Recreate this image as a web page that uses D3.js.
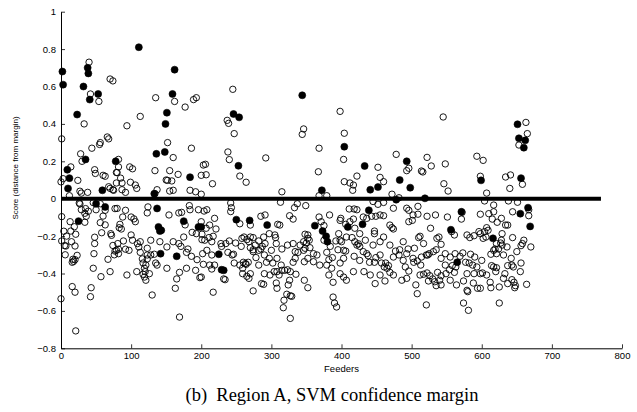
<!DOCTYPE html>
<html><head><meta charset="utf-8">
<script src="https://cdn.jsdelivr.net/npm/d3@7/dist/d3.min.js"></script>
<style>
html,body{margin:0;padding:0;background:#fff;}
svg{display:block;}
</style></head>
<body><div id="chart"></div>
<script>
// ---- data (feeder index, score) ----
const xTicks = [0,100,200,300,400,500,600,700,800];
const yTicks = [-0.8,-0.6,-0.4,-0.2,0,0.2,0.4,0.6,0.8,1];
const marginLine = [[0,0],[770,0]];

const filledPoints = [
[111,0.81],[2,0.68],[162,0.69],[38,0.70],[39,0.67],[3,0.61],[32,0.60],[53,0.56],[41,0.53],[159,0.56],
[151,0.46],[23,0.45],[149,0.40],[136,0.24],[148,0.25],[35,0.21],[78,0.20],[9,0.155],[12,0.11],[184,0.115],
[10,0.055],[59,0.045],[133,0.027],[50,-0.027],[63,-0.044],[25,-0.12],[137,-0.052],[139,-0.151],[143,-0.169],[141,-0.173],
[175,-0.12],[196,-0.151],[142,-0.294],[165,-0.308],
[344,0.553],[246,0.453],[254,0.435],[404,0.278],[253,0.176],
[372,0.045],[200,-0.151],[250,-0.112],[269,-0.116],[294,-0.141],[225,-0.297],[229,-0.38],[232,-0.383],
[362,-0.144],[373,-0.173],[378,-0.201],[380,-0.23],
[493,0.2],[433,0.175],[483,0.1],
[441,0.048],[452,0.062],[498,0.059],[478,-0.005],[519,0.002],[599,0.098],[439,-0.062],[409,-0.151],[430,-0.137],[556,-0.166],[571,-0.07],[565,-0.34],
[651,0.398],[653,0.323],[662,0.312],[660,0.273],[656,0.11],
[666,-0.048],[655,-0.08],[669,-0.148],[616,-0.212]
];

const openPoints = [
// upper left
[40,0.73],[70,0.64],[74,0.63],[42,0.56],[54,0.52],[135,0.54],[162,0.52],[189,0.53],[193,0.54],[177,0.49],
[33,0.40],[113,0.44],[94,0.39],[1,0.32],[66,0.33],[68,0.32],[56,0.30],[55,0.29],[44,0.27],[152,0.30],
[186,0.27],[160,0.22],[28,0.24],[30,0.20],[82,0.21],[82,0.17],[80,0.14],[98,0.17],[102,0.16],[48,0.155],
[49,0.135],[60,0.125],[63,0.12],[134,0.15],[155,0.15],[167,0.13],[14,0.17],[203,0.18],[85,0.11],[200,0.125],[150,0.10],
[0,0.09],[3,0.107],[12,0.016],[24,0.098],[27,0.04],[29,0.03],[38,0.034],[68,0.064],[75,0.045],[79,0.084],[79,0.14],
[70,0.055],[74,0.048],[87,0.084],[99,0.088],[106,0.073],[108,0.055],[87,0.048],[92,0.034],[137,0.048],[134,0.027],
[152,0.098],[158,0.095],[155,0.041],[160,0.045],[184,0.045],[192,0.037],[200,0.024],
// lower left
[1,-0.096],[13,-0.123],[27,-0.028],[35,-0.053],[39,-0.067],[34,-0.078],[46,-0.021],[63,-0.062],[77,-0.053],[60,-0.093],
[56,-0.128],[4,-0.174],[8,-0.2],[14,-0.173],[19,-0.15],[21,-0.19],[7,-0.253],[20,-0.253],[17,-0.324],[18,-0.335],
[23,-0.303],[48,-0.206],[48,-0.24],[58,-0.182],[72,-0.196],[74,-0.25],[77,-0.28],[76,-0.30],[67,-0.324],[81,-0.24],
[82,-0.27],[16,-0.47],[20,-0.5],[57,-0.417],[42,-0.524],[0,-0.535],[21,-0.707],
[26,-0.023],[29,-0.059],[50,-0.059],[56,-0.027],[80,-0.052],[92,-0.062],[36,-0.094],[34,-0.126],[63,-0.14],[88,-0.098],
[100,-0.098],[84,-0.137],[86,-0.162],[83,-0.155],[104,-0.108],[106,-0.123],[124,-0.044],[123,-0.076],[154,-0.087],[168,-0.076],
[172,-0.073],[177,-0.14],[200,-0.123],[204,-0.066],[196,-0.059],[184,-0.059],[183,-0.037],[187,-0.18],[193,-0.187],[175,-0.205],
[201,-0.219],[1,-0.226],[5,-0.251],[15,-0.23],[6,-0.3],[16,-0.34],[20,-0.326],[47,-0.294],[71,-0.187],[79,-0.276],
[82,-0.294],[89,-0.226],[92,-0.27],[97,-0.276],[100,-0.194],[102,-0.222],[109,-0.24],[111,-0.258],[113,-0.287],[116,-0.322],
[117,-0.344],[123,-0.322],[121,-0.355],[119,-0.372],[123,-0.301],[128,-0.301],[133,-0.297],[135,-0.344],[117,-0.404],[120,-0.39],
[119,-0.419],[121,-0.436],[126,-0.401],[128,-0.222],[168,-0.24],[171,-0.255],[179,-0.287],[181,-0.269],[186,-0.308],[194,-0.326],
[192,-0.383],[198,-0.422],[169,-0.394],[165,-0.429],[163,-0.479],[130,-0.515],[43,-0.476],[169,-0.633],
[113,-0.23],[123,-0.265],[141,-0.23],[151,-0.258],[160,-0.23],[137,-0.355],[151,-0.372],[179,-0.372],[70,-0.39],[46,-0.372],
[94,-0.408],[108,-0.39],
// upper middle
[245,0.585],[237,0.419],[239,0.403],[247,0.348],[398,0.467],[346,0.373],[344,0.344],[404,0.35],[368,0.27],[403,0.21],
[238,0.25],[240,0.209],[292,0.218],[206,0.184],[207,0.128],[255,0.121],[367,0.144],
[264,0.088],[216,0.08],[315,0.037],[368,0.016],[379,0.016],[404,0.091],
// lower middle
[242,-0.023],[243,-0.048],[242,-0.069],[208,-0.059],[219,-0.105],[255,-0.134],[270,-0.141],[285,-0.094],[291,-0.087],[309,-0.137],
[312,-0.141],[326,-0.091],[331,-0.109],[333,-0.048],[337,-0.027],[349,-0.037],[313,-0.019],[207,-0.158],[212,-0.141],[221,-0.162],
[201,-0.19],[217,-0.201],[211,-0.208],[205,-0.222],[215,-0.23],[229,-0.255],[235,-0.24],[246,-0.297],[249,-0.237],[261,-0.205],
[258,-0.212],[274,-0.208],[282,-0.226],[289,-0.205],[297,-0.187],[305,-0.194],[306,-0.208],[287,-0.255],[282,-0.276],[277,-0.248],
[274,-0.273],[300,-0.276],[315,-0.269],[203,-0.351],[212,-0.355],[200,-0.419],[215,-0.376],[219,-0.355],[232,-0.429],[234,-0.433],
[244,-0.301],[247,-0.344],[260,-0.34],[264,-0.351],[267,-0.34],[259,-0.401],[265,-0.415],[268,-0.426],[274,-0.493],[286,-0.454],
[290,-0.401],[298,-0.408],[304,-0.39],[308,-0.39],[311,-0.408],[315,-0.383],[319,-0.383],[323,-0.38],[327,-0.39],[335,-0.404],
[289,-0.458],[307,-0.451],[308,-0.479],[324,-0.461],[326,-0.436],[347,-0.436],[352,-0.476],[322,-0.511],[318,-0.543],[327,-0.519],
[329,-0.522],[317,-0.583],[327,-0.64],[217,-0.5],[341,-0.248],[346,-0.23],[348,-0.265],[355,-0.262],[360,-0.294],[365,-0.301],
[352,-0.212],[352,-0.194],[338,-0.287],[334,-0.283],[368,-0.098],[371,-0.123],[375,-0.144],[383,-0.087],[375,-0.222],[384,-0.255],
[379,-0.287],[382,-0.326],[387,-0.315],[379,-0.355],[386,-0.372],[382,-0.408],[388,-0.447],[398,-0.344],[398,-0.401],[403,-0.276],
[400,-0.23],[396,-0.187],[398,-0.116],[392,-0.226],[388,-0.526],[390,-0.558],[393,-0.579],
[268,-0.23],[270,-0.262],[274,-0.283],[263,-0.347],[259,-0.372],[278,-0.315],[285,-0.269],[290,-0.301],[297,-0.319],[302,-0.344],
[314,-0.355],[308,-0.319],[346,-0.276],[352,-0.319],[331,-0.34],[334,-0.319],[347,-0.337],[360,-0.337],[369,-0.355],[395,-0.273],[403,-0.319],
[228,-0.24],[238,-0.287],[240,-0.226],[257,-0.255],[265,-0.219],[270,-0.205],[291,-0.24],[307,-0.24],[323,-0.248],[331,-0.24],
[350,-0.237],[348,-0.19],[354,-0.222],[255,-0.355],[270,-0.401],[282,-0.355],[293,-0.34],[215,-0.301],[208,-0.276],[202,-0.294],
// upper right
[545,0.437],[478,0.237],[522,0.221],[496,0.163],[493,0.15],[514,0.148],[516,0.143],[528,0.175],[548,0.186],[452,0.168],
[422,0.121],[455,0.114],[593,0.227],[602,0.205],[598,0.12],
[417,0.073],[416,0.045],[412,0.084],[460,0.091],[472,0.024],[482,0.005],[546,0.08],[552,0.041],
[663,0.408],[665,0.348],[653,0.287],[634,0.116],[641,0.127],
[640,0.055],[658,0.077],[607,0.03],[638,-0.012],[651,-0.019],[604,-0.012],
// lower right
[445,-0.015],[452,-0.03],[460,-0.02],[411,-0.055],[418,-0.055],[422,-0.059],[431,-0.098],[436,-0.105],[443,-0.094],[449,-0.094],
[455,-0.087],[460,-0.091],[474,-0.051],[493,-0.051],[502,-0.087],[496,-0.062],[509,-0.041],[399,-0.105],[406,-0.137],[412,-0.123],
[417,-0.109],[419,-0.158],[426,-0.187],[407,-0.205],[415,-0.208],[419,-0.23],[422,-0.248],[424,-0.241],[426,-0.255],[447,-0.173],
[447,-0.187],[460,-0.205],[469,-0.141],[472,-0.155],[474,-0.162],[496,-0.123],[501,-0.116],[509,-0.083],[527,-0.158],[510,-0.208],
[512,-0.201],[504,-0.265],[495,-0.269],[523,-0.301],[535,-0.273],[522,-0.094],[534,-0.087],[539,-0.205],[551,-0.098],[557,-0.176],
[561,-0.194],[572,-0.073],[571,-0.109],[596,-0.176],[589,-0.198],[579,-0.194],[583,-0.208],
[398,-0.222],[406,-0.28],[403,-0.419],[418,-0.308],[426,-0.33],[436,-0.294],[438,-0.305],[447,-0.34],[449,-0.315],[457,-0.344],
[461,-0.365],[463,-0.344],[467,-0.358],[465,-0.372],[469,-0.394],[477,-0.28],[482,-0.301],[488,-0.33],[491,-0.365],[496,-0.387],
[503,-0.34],[508,-0.333],[514,-0.312],[521,-0.301],[525,-0.294],[531,-0.283],[432,-0.39],[448,-0.454],[462,-0.44],[486,-0.436],
[506,-0.461],[508,-0.508],[521,-0.568],[517,-0.404],[522,-0.397],[526,-0.412],[530,-0.429],[533,-0.444],[524,-0.44],[535,-0.465],
[542,-0.461],[540,-0.436],[542,-0.412],[537,-0.394],[549,-0.401],[554,-0.38],[561,-0.394],[563,-0.365],[558,-0.358],[569,-0.308],
[562,-0.294],[573,-0.29],[577,-0.34],[582,-0.344],[587,-0.355],[584,-0.297],[590,-0.312],[593,-0.365],[589,-0.401],[588,-0.451],
[594,-0.479],[579,-0.49],[580,-0.497],[574,-0.558],[581,-0.597],
[431,-0.283],[440,-0.34],[455,-0.301],[474,-0.312],[483,-0.273],[493,-0.294],[502,-0.319],[513,-0.355],[542,-0.319],[548,-0.294],
[548,-0.355],[555,-0.312],[542,-0.244],[536,-0.212],[517,-0.24],[488,-0.23],[469,-0.248],[455,-0.23],[434,-0.222],[445,-0.248],
[579,-0.401],[574,-0.44],[564,-0.461],[555,-0.436],[512,-0.408],[493,-0.426],[474,-0.408],[455,-0.408],[441,-0.408],[417,-0.39],[407,-0.436],
[667,-0.059],[667,-0.091],[598,-0.083],[610,-0.08],[617,-0.07],[615,-0.109],[622,-0.126],[634,-0.141],[637,-0.141],[607,-0.155],
[609,-0.169],[604,-0.176],[598,-0.187],[602,-0.212],[606,-0.205],[629,-0.187],[628,-0.222],[644,-0.208],[621,-0.24],[627,-0.237],
[629,-0.248],[624,-0.269],[619,-0.269],[613,-0.297],[621,-0.294],[631,-0.301],[642,-0.319],[656,-0.344],[658,-0.24],[656,-0.251],
[670,-0.258],[614,-0.358],[617,-0.365],[621,-0.369],[620,-0.39],[633,-0.401],[637,-0.358],[645,-0.365],[600,-0.33],[598,-0.401],
[601,-0.397],[612,-0.447],[613,-0.476],[625,-0.472],[637,-0.454],[643,-0.433],[646,-0.447],[648,-0.465],[647,-0.476],[664,-0.458],
[598,-0.479],[625,-0.558],
[617,-0.276],[636,-0.258],[650,-0.283],[643,-0.355],[655,-0.39],[631,-0.426],[607,-0.408],[660,-0.222],[628,-0.105],[644,-0.07],[617,-0.034]
];

// ---- drawing ----
const W = 637, H = 412;
const svg = d3.select("#chart").append("svg").attr("width", W).attr("height", H);
const x = d3.scaleLinear().domain([0,800]).range([61,622]);
const y = d3.scaleLinear().domain([-0.8,1]).range([348.3,11.7]);
const fmtY = d => d===0 ? "0" : (d<0 ? "\u2212" : "") + (Math.abs(d)===1 ? "1" : Math.abs(d).toFixed(1));
const font = "Liberation Sans, Arial, Helvetica, sans-serif";

const gx = svg.append("g").attr("transform", `translate(0,${y(-0.8)})`)
  .call(d3.axisBottom(x).tickValues(xTicks).tickSizeInner(-4).tickSizeOuter(0).tickPadding(4).tickFormat(d3.format("d")));
const gy = svg.append("g").attr("transform", `translate(${x(0)},0)`)
  .call(d3.axisLeft(y).tickValues(yTicks).tickSizeInner(-4).tickSizeOuter(0).tickPadding(5).tickFormat(fmtY));
[gx, gy].forEach(g => {
  g.select(".domain").attr("stroke", "#000").attr("stroke-width", 1);
  g.selectAll(".tick line").attr("stroke", "#000").attr("stroke-width", 0.8);
  g.selectAll(".tick text").attr("fill", "#000").style("font-family", font).style("font-size", "9.5px");
});

svg.append("g").selectAll("circle").data(openPoints).join("circle")
  .attr("cx", d => x(d[0])).attr("cy", d => y(d[1])).attr("r", 3.2)
  .attr("fill", "none").attr("stroke", "#000").attr("stroke-width", 0.9);

svg.append("path").datum(marginLine)
  .attr("d", d3.line().x(d => x(d[0])).y(d => y(d[1])))
  .attr("stroke", "#000").attr("stroke-width", 4).attr("fill", "none");

svg.append("g").selectAll("circle").data(filledPoints).join("circle")
  .attr("cx", d => x(d[0])).attr("cy", d => y(d[1])).attr("r", 3.5)
  .attr("fill", "#000").attr("stroke", "#000").attr("stroke-width", 0.6);

svg.append("text").attr("x", x(400)).attr("y", 372).attr("text-anchor", "middle")
  .style("font-family", font).style("font-size", "9.5px").text("Feeders");

svg.append("text").attr("transform", `translate(18,168) rotate(-90)`).attr("text-anchor", "middle")
  .style("font-family", font).style("font-size", "8px").text("Score (distance from margin)");

svg.append("text").attr("x", 332).attr("y", 401).attr("text-anchor", "middle")
  .style("font-family", "Liberation Serif, 'Times New Roman', serif").style("font-size", "18.5px")
  .text("(b)\u00a0 Region A, SVM confidence margin");
</script>
</body></html>
